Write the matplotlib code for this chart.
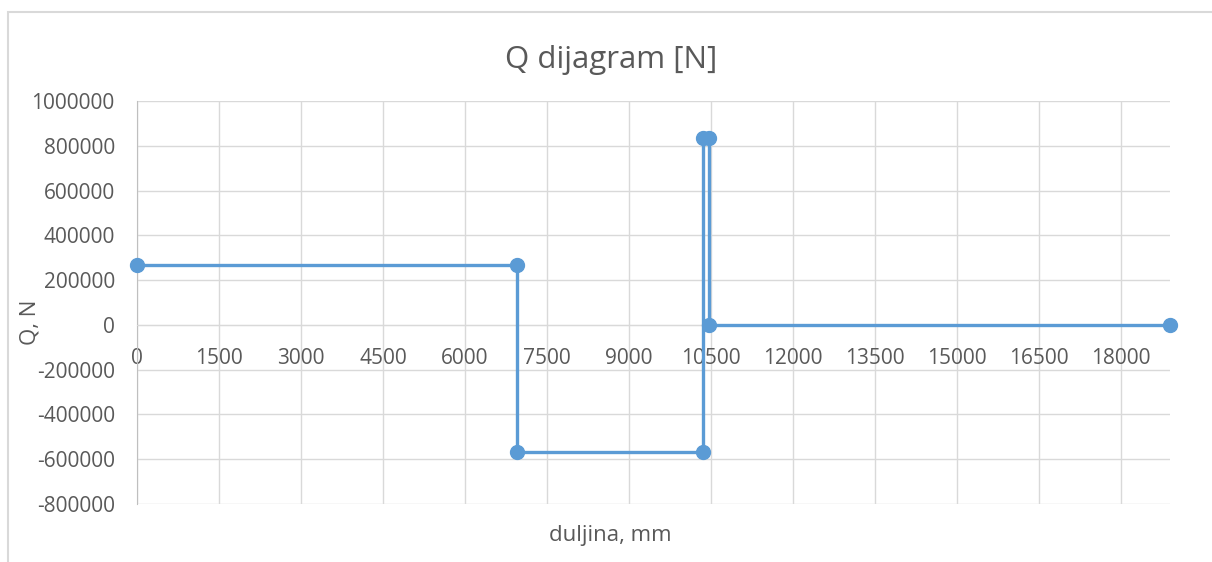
import matplotlib
matplotlib.use("Agg")
import matplotlib.pyplot as plt
from matplotlib.patches import Rectangle

x_mm = [0, 6950, 6950, 10350, 10350, 10470, 10470, 18900]
q_n = [267000, 267000, -566000, -566000, 834000, 834000, 0, 0]
x_ticks = [0, 1500, 3000, 4500, 6000, 7500, 9000, 10500, 12000, 13500, 15000, 16500, 18000]
y_ticks = [1000000, 800000, 600000, 400000, 200000, 0, -200000, -400000, -600000, -800000]
title = "Q dijagram [N]"
xlabel = "duljina, mm"
ylabel = "Q, N"

plt.rcParams['font.family'] = ['Open Sans', 'DejaVu Sans']
W, H = 1212, 562
fig = plt.figure(figsize=(W/100, H/100), dpi=100)
left, right, top, bottom = 137, 1170, 101, 504
ax = fig.add_axes([left/W, 1-bottom/H, (right-left)/W, (bottom-top)/H])

line_c = '#5b9bd5'
grid_c = '#d9d9d9'
text_c = '#595959'

ax.plot(x_mm, q_n, color=line_c, lw=2.4, marker='o', ms=10, zorder=3, clip_on=False)
ax.set_xlim(0, 18900)
ax.set_ylim(-800000, 1000000)
ax.set_xticks(x_ticks)
ax.set_yticks(y_ticks)
ax.set_xticklabels([str(v) for v in x_ticks])
ax.set_yticklabels([str(v) for v in y_ticks])
ax.grid(True, color=grid_c, lw=1)
ax.set_axisbelow(True)
for s in ['top', 'right']:
    ax.spines[s].set_visible(False)
ax.spines['bottom'].set_position(('data', 0))
ax.spines['bottom'].set_color(grid_c)
ax.spines['left'].set_color('#bfbfbf')
ax.tick_params(axis='both', length=0, labelsize=15, colors=text_c)
ax.tick_params(axis='x', pad=17)
ax.tick_params(axis='y', pad=16)

fig.text(611/W, 1-60/H, title, ha='center', va='center', fontsize=22.5, color=text_c)
fig.text(610/W, 1-535/H, xlabel, ha='center', va='center', fontsize=16, color=text_c)
fig.text(30/W, 1-322/H, ylabel, ha='center', va='center', fontsize=16, color=text_c, rotation=90)

fig.patches.append(Rectangle((8/W, -0.1), 1.2, 1-12/H+0.1, transform=fig.transFigure,
                             fill=False, edgecolor=grid_c, lw=1.5))

fig.savefig('out.png', dpi=100, facecolor='white')
